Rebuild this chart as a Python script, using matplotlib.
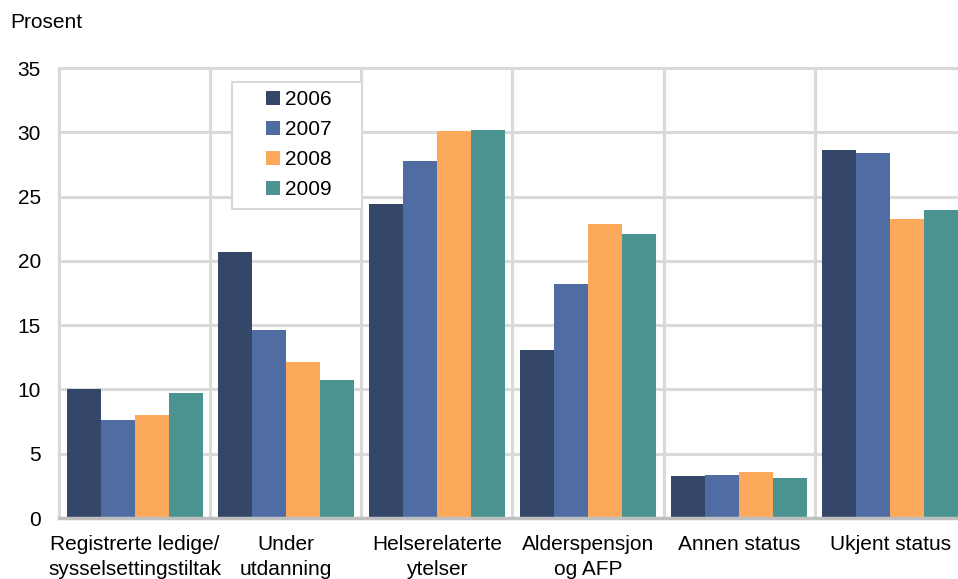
import matplotlib
matplotlib.use("Agg")
import matplotlib.pyplot as plt
from matplotlib.patches import Rectangle
import numpy as np

plt.rcParams['font.family'] = ['Liberation Sans', 'DejaVu Sans']

categories = ["Registrerte ledige/\nsysselsettingstiltak", "Under\nutdanning", "Helserelaterte\nytelser",
              "Alderspensjon\nog AFP", "Annen status", "Ukjent status"]
years = ["2006", "2007", "2008", "2009"]
v2006 = [10.0, 20.7, 24.4, 13.1, 3.3, 28.6]
v2007 = [7.6, 14.6, 27.8, 18.2, 3.35, 28.4]
v2008 = [8.0, 12.1, 30.1, 22.9, 3.6, 23.25]
v2009 = [9.7, 10.7, 30.2, 22.1, 3.1, 23.95]
series = [v2006, v2007, v2008, v2009]
colors = ["#344769", "#4F6CA3", "#FDA95B", "#4A9390"]

FS = 15

fig = plt.figure(figsize=(9.58, 5.79), dpi=100)
ax = fig.add_axes([59/958, (579-518)/579, 907/958, 450/579])

x = np.arange(len(categories))
w = 0.225
for i, (vals, c, y) in enumerate(zip(series, colors, years)):
    ax.bar(x + (i - 1.5) * w, vals, width=w, color=c, label=y, zorder=3)

ax.set_xlim(-0.5, len(categories) - 0.5)
ax.set_ylim(0, 35)
ax.set_yticks(np.arange(0, 36, 5))
ax.set_xticks(x)
ax.set_xticklabels(categories, fontsize=FS)
for lab in ax.get_xticklabels():
    lab.set_linespacing(1.45)
ax.set_xticks(np.arange(0.5, len(categories) - 0.5, 1), minor=True)
ax.tick_params(axis='both', which='both', length=0)
ax.tick_params(axis='y', labelsize=FS, pad=13)
ax.tick_params(axis='x', pad=12)
ax.grid(axis='y', which='major', color='#D9D9D9', linewidth=2.2, zorder=0)
ax.grid(axis='x', which='minor', color='#D9D9D9', linewidth=2.2, zorder=0)
ax.spines['right'].set_visible(False)
ax.spines['left'].set_color('#D9D9D9')
ax.spines['left'].set_linewidth(2.2)
ax.spines['bottom'].set_color('#BFBFBF')
ax.spines['bottom'].set_linewidth(2.5)
ax.spines['bottom'].set_zorder(4)
ax.spines['top'].set_color('#D9D9D9')
ax.spines['top'].set_linewidth(2.2)

# legend box (drawn separately to match padding)
box = Rectangle(((232.5-59)/907, (518-209)/450), 130/907, 127/450, transform=ax.transAxes,
                facecolor='white', edgecolor='#D9D9D9', linewidth=1.5, zorder=5)
ax.add_patch(box)
leg = ax.legend(loc='upper left', bbox_to_anchor=((266-59)/907, (518-90)/450), fontsize=FS,
                frameon=False, handlelength=0.65, handleheight=0.65,
                handletextpad=0.25, borderpad=0.0, labelspacing=0.53, borderaxespad=0)
leg.set_zorder(6)

fig.text(10/958, 1 - 22/579, "Prosent", fontsize=FS, va='center', ha='left')

fig.savefig("out.png", dpi=100)
